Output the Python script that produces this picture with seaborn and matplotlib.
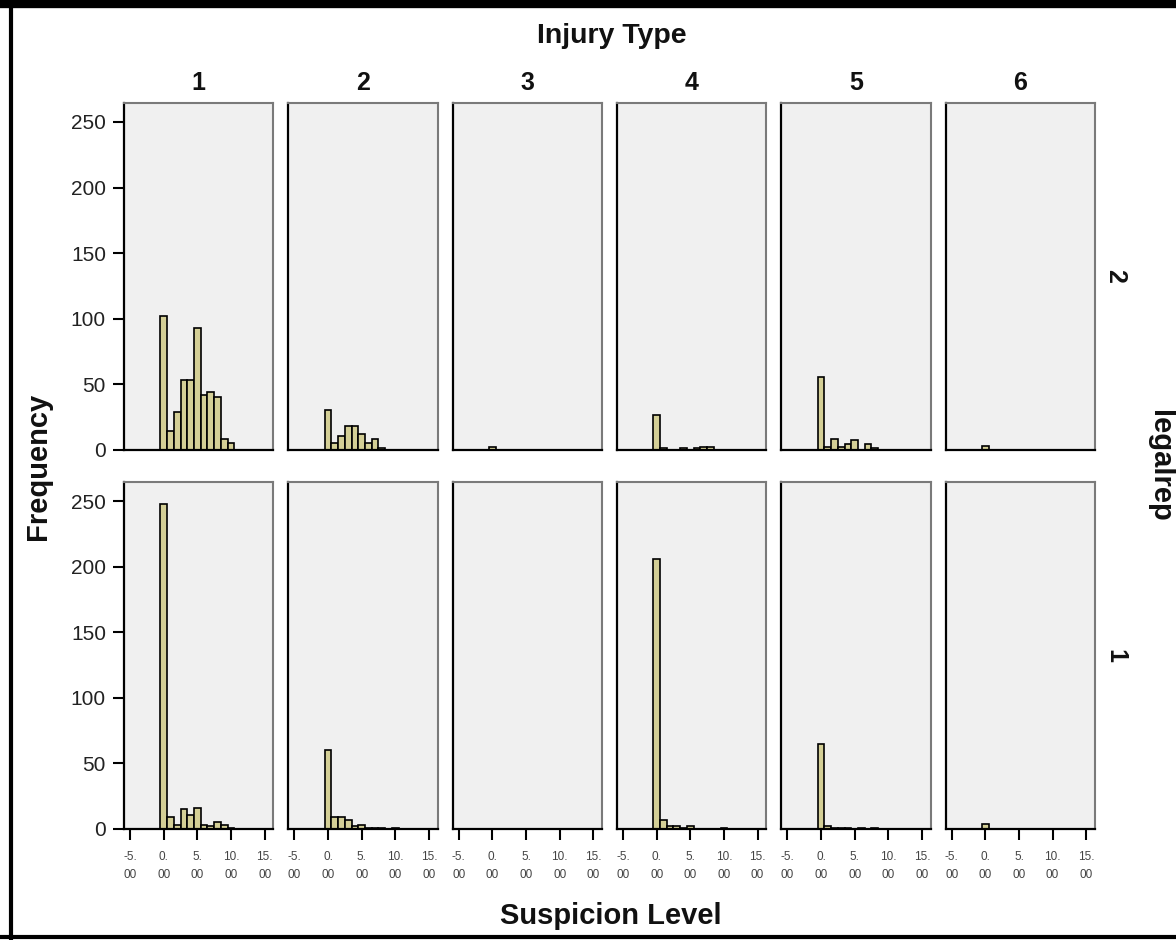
import numpy as np
import pandas as pd
import matplotlib
matplotlib.use("Agg")
import matplotlib.pyplot as plt
from matplotlib.lines import Line2D
import seaborn as sns

# ---------------- data ----------------
injury_types = [1, 2, 3, 4, 5, 6]
legalrep_levels = [2, 1]            # top row = 2, bottom row = 1
suspicion_levels = list(range(11))  # 0 .. 10

# frequency per suspicion level (0..10), legalrep = 2
rep2_inj1 = [102, 14, 29, 53, 53, 93, 42, 44, 40, 8, 5]
rep2_inj2 = [30, 5, 10, 18, 18, 12, 5, 8, 1, 0, 0]
rep2_inj3 = [2, 0, 0, 0, 0, 0, 0, 0, 0, 0, 0]
rep2_inj4 = [26, 1, 0, 0, 1, 0, 1, 2, 2, 0, 0]
rep2_inj5 = [55, 2, 8, 2, 4, 7, 0, 4, 1, 0, 0]
rep2_inj6 = [3, 0, 0, 0, 0, 0, 0, 0, 0, 0, 0]
# legalrep = 1
rep1_inj1 = [248, 9, 3, 15, 11, 16, 3, 2, 5, 3, 1]
rep1_inj2 = [60, 9, 9, 7, 2, 3, 1, 1, 1, 0, 1]
rep1_inj3 = [0, 0, 0, 0, 0, 0, 0, 0, 0, 0, 0]
rep1_inj4 = [206, 7, 2, 2, 1, 2, 0, 0, 0, 0, 1]
rep1_inj5 = [65, 2, 1, 1, 1, 0, 1, 0, 1, 0, 0]
rep1_inj6 = [4, 0, 0, 0, 0, 0, 0, 0, 0, 0, 0]

x_ticks = [-5, 0, 5, 10, 15]
x_ticklabels = ["-5.\n00", "0.\n00", "5.\n00", "10.\n00", "15.\n00"]
y_ticks = [0, 50, 100, 150, 200, 250]

counts = {
    (2, 1): rep2_inj1, (2, 2): rep2_inj2, (2, 3): rep2_inj3,
    (2, 4): rep2_inj4, (2, 5): rep2_inj5, (2, 6): rep2_inj6,
    (1, 1): rep1_inj1, (1, 2): rep1_inj2, (1, 3): rep1_inj3,
    (1, 4): rep1_inj4, (1, 5): rep1_inj5, (1, 6): rep1_inj6,
}
rows = []
for (rep, inj), vals in counts.items():
    for lvl, c in zip(suspicion_levels, vals):
        if c > 0:
            rows.append({"legalrep": rep, "injury": inj, "level": lvl, "count": c})
df = pd.DataFrame(rows)

# ---------------- style ----------------
sns.set_theme(style="white")
plt.rcParams["font.family"] = ["Liberation Sans", "DejaVu Sans"]

BAR = "#d4cf96"
PANEL_BG = "#f0f0f0"

g = sns.FacetGrid(df, row="legalrep", col="injury",
                  row_order=legalrep_levels, col_order=injury_types,
                  sharex=True, sharey=True, despine=False,
                  height=3.47, aspect=150 / 347)
g.map_dataframe(sns.histplot, x="level", weights="count", discrete=True,
                color=BAR, edgecolor="black", linewidth=1.2, alpha=1)

fig = g.figure
fig.set_size_inches(11.76, 9.40)
W, H = 1176, 940
fig.subplots_adjust(left=124 / W, right=1095 / W, top=1 - 103 / H,
                    bottom=1 - 829 / H, wspace=0.1, hspace=0.095)

for i, rep in enumerate(legalrep_levels):
    for j, inj in enumerate(injury_types):
        ax = g.axes[i, j]
        ax.set_title("")
        ax.set_xlabel("")
        ax.set_ylabel("")
        ax.set_facecolor(PANEL_BG)
        ax.set_xlim(-5.9, 16.3)
        ax.set_ylim(0, 264.5)
        ax.set_xticks(x_ticks)
        ax.set_yticks(y_ticks)
        for s in ["left", "bottom"]:
            ax.spines[s].set_color("black")
            ax.spines[s].set_linewidth(1.6)
        for s in ["top", "right"]:
            ax.spines[s].set_color("#7a7a7a")
            ax.spines[s].set_linewidth(1.5)
        ax.tick_params(axis="both", which="major", direction="out",
                       length=8, width=1.5, color="black")
        ax.tick_params(axis="y", labelsize=15, labelcolor="#222222", pad=5)
        if i == len(legalrep_levels) - 1:
            ax.tick_params(axis="x", bottom=True, labelbottom=True, pad=8)
            ax.set_xticklabels(x_ticklabels, fontsize=8.5, color="#444444",
                               linespacing=1.6)
        else:
            ax.tick_params(axis="x", bottom=False, labelbottom=False)
        if j == 0:
            ax.tick_params(axis="y", left=True, labelleft=True)
        else:
            ax.tick_params(axis="y", left=False, labelleft=False)

# column headers
for j, inj in enumerate(injury_types):
    pos = g.axes[0, j].get_position()
    fig.text((pos.x0 + pos.x1) / 2, 1 - 83 / H, str(inj), ha="center",
             va="center", fontsize=18, fontweight="bold", color="#111111")
# row headers
for i, rep in enumerate(legalrep_levels):
    pos = g.axes[i, 0].get_position()
    fig.text(1115 / W, (pos.y0 + pos.y1) / 2, str(rep), ha="center",
             va="center", rotation=270, fontsize=18, fontweight="bold",
             color="#111111")

fig.text(612 / W, 1 - 36 / H, "Injury Type", ha="center", va="center",
         fontsize=20.5, fontweight="bold", color="#111111")
fig.text(1160 / W, 1 - 466 / H, "legalrep", ha="center", va="center",
         rotation=270, fontsize=21, fontweight="bold", color="#111111")
fig.text(38 / W, 1 - 466 / H, "Frequency", ha="center", va="center",
         rotation=90, fontsize=21, fontweight="bold", color="#111111")
fig.text(611 / W, 1 - 916 / H, "Suspicion Level", ha="center", va="center",
         fontsize=21, fontweight="bold", color="#111111")

# outer black frame of the screenshot
fig.add_artist(Line2D([0, 1], [1 - 4 / H, 1 - 4 / H], transform=fig.transFigure,
                      color="black", linewidth=6))
fig.add_artist(Line2D([11 / W, 11 / W], [0, 1], transform=fig.transFigure,
                      color="black", linewidth=3))
fig.add_artist(Line2D([0, 1], [3 / H, 3 / H], transform=fig.transFigure,
                      color="black", linewidth=3))

fig.savefig("out.png", dpi=100, facecolor="white")
